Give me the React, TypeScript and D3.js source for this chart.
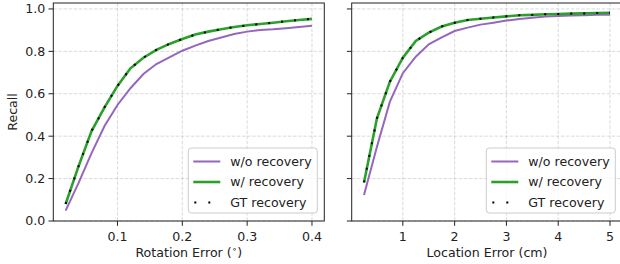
import React from "react";
import * as d3 from "d3";

// rotation error (deg) thresholds, left panel
const rotX = [0.02, 0.04, 0.06, 0.08, 0.1, 0.12, 0.14, 0.16, 0.18, 0.2, 0.22, 0.24, 0.26, 0.28, 0.3, 0.32, 0.34, 0.36, 0.38, 0.4];
const rotNoRec = [0.049, 0.18, 0.32, 0.448, 0.547, 0.626, 0.693, 0.74, 0.772, 0.803, 0.827, 0.849, 0.865, 0.882, 0.893, 0.901, 0.904, 0.909, 0.915, 0.921];
const rotRec = [0.08, 0.259, 0.424, 0.536, 0.637, 0.72, 0.77, 0.807, 0.835, 0.858, 0.879, 0.893, 0.904, 0.915, 0.923, 0.929, 0.935, 0.942, 0.948, 0.953];
const rotGT = rotRec;

// location error (cm) thresholds, right panel
const locX = [0.25, 0.5, 0.75, 1, 1.25, 1.5, 1.75, 2, 2.25, 2.5, 2.75, 3, 3.25, 3.5, 3.75, 4, 4.25, 4.5, 4.75, 5];
const locNoRec = [0.123, 0.35, 0.563, 0.697, 0.775, 0.833, 0.866, 0.896, 0.912, 0.926, 0.935, 0.945, 0.953, 0.959, 0.964, 0.967, 0.969, 0.97, 0.972, 0.973];
const locRec = [0.182, 0.484, 0.657, 0.77, 0.849, 0.888, 0.917, 0.935, 0.948, 0.954, 0.96, 0.965, 0.97, 0.972, 0.975, 0.976, 0.978, 0.979, 0.981, 0.982];
const locGT = locRec;

const yTicks = [0, 0.2, 0.4, 0.6, 0.8, 1.0];
const rotTicks = [0.1, 0.2, 0.3, 0.4];
const locTicks = [1, 2, 3, 4, 5];
const legendLabels = ["w/o recovery", "w/ recovery", "GT recovery"];

const FONT = "DejaVu Sans, sans-serif";
const FS = 12.6;
const PURPLE = "#9467bd";
const GREEN = "#2ca02c";

const top = 3;
const bottom = 221;
const y = d3.scaleLinear().domain([0, 1.028]).range([bottom, top]);

interface PanelProps {
  x: d3.ScaleLinear<number, number>;
  xs: number[];
  noRec: number[];
  rec: number[];
  gt: number[];
  ticks: number[];
  fmt: (v: number) => string;
  xLabel: React.ReactNode;
  showYLabels: boolean;
}

const Panel = ({ x, xs, noRec, rec, gt, ticks, fmt, xLabel, showYLabels }: PanelProps) => {
  const [x0, x1] = x.range();
  const line = (vals: number[]) =>
    d3.line<number>().x((_, i) => x(xs[i])).y((d) => y(d))(vals) || "";

  const lgW = 129;
  const lgH = 65;
  const lgX = x1 - 7 - lgW;
  const lgY = bottom - 8 - lgH;
  const rows = [lgY + 13.5, lgY + 34, lgY + 54.5];

  return (
    <g>
      {/* grid */}
      {ticks.map((t) => (
        <line key={"gx" + t} x1={x(t)} x2={x(t)} y1={top} y2={bottom} stroke="#b0b0b0" strokeOpacity={0.6} strokeWidth={0.8} strokeDasharray="3.5 1.6" />
      ))}
      {yTicks.map((t) => (
        <line key={"gy" + t} x1={x0} x2={x1} y1={y(t)} y2={y(t)} stroke="#b0b0b0" strokeOpacity={0.6} strokeWidth={0.8} strokeDasharray="3.5 1.6" />
      ))}

      <path d={line(noRec)} fill="none" stroke={PURPLE} strokeWidth={2} />
      <path d={line(rec)} fill="none" stroke={GREEN} strokeWidth={2.6} />
      <path d={line(gt)} fill="none" stroke="#000" strokeWidth={2} strokeDasharray="2 11" />

      {/* spines */}
      <rect x={x0} y={top} width={x1 - x0} height={bottom - top} fill="none" stroke="#222" strokeWidth={1} />

      {/* y ticks */}
      {yTicks.map((t) => (
        <g key={"yt" + t}>
          <line x1={x0 - 4.8} x2={x0} y1={y(t)} y2={y(t)} stroke="#222" strokeWidth={1} />
          {showYLabels && (
            <text x={x0 - 8} y={y(t)} dy="0.35em" textAnchor="end" fontSize={FS} fontFamily={FONT} fill="#222">
              {t.toFixed(1)}
            </text>
          )}
        </g>
      ))}

      {/* x ticks */}
      {ticks.map((t) => (
        <g key={"xt" + t}>
          <line x1={x(t)} x2={x(t)} y1={bottom} y2={bottom + 4.8} stroke="#222" strokeWidth={1} />
          <text x={x(t)} y={bottom + 20} textAnchor="middle" fontSize={FS} fontFamily={FONT} fill="#222">
            {fmt(t)}
          </text>
        </g>
      ))}

      <text x={(x0 + x1) / 2} y={257} textAnchor="middle" fontSize={FS} fontFamily={FONT} fill="#222">
        {xLabel}
      </text>

      {/* legend */}
      <rect x={lgX} y={lgY} width={lgW} height={lgH} rx={3} fill="#fff" fillOpacity={0.8} stroke="#ccc" strokeWidth={1} />
      {legendLabels.map((lbl, i) => (
        <g key={lbl}>
          {i === 0 && <line x1={lgX + 5} x2={lgX + 32} y1={rows[i]} y2={rows[i]} stroke={PURPLE} strokeWidth={2} />}
          {i === 1 && <line x1={lgX + 5} x2={lgX + 32} y1={rows[i]} y2={rows[i]} stroke={GREEN} strokeWidth={2.6} />}
          {i === 2 && <line x1={lgX + 6} x2={lgX + 32} y1={rows[i]} y2={rows[i]} stroke="#000" strokeWidth={2} strokeDasharray="2 12" />}
          <text x={lgX + 42} y={rows[i]} dy="0.35em" fontSize={FS} fontFamily={FONT} fill="#222">
            {lbl}
          </text>
        </g>
      ))}
    </g>
  );
};

export default function App() {
  const xRot = d3.scaleLinear().domain([0.001, 0.419]).range([53.3, 324.3]);
  const xLoc = d3.scaleLinear().domain([0.0125, 5.2375]).range([351.7, 622.3]);

  return (
    <svg width={620} height={264} style={{ position: "absolute", left: 0, top: 0, background: "#fff" }}>
      <rect width={620} height={264} fill="#fff" />
      <Panel
        x={xRot}
        xs={rotX}
        noRec={rotNoRec}
        rec={rotRec}
        gt={rotGT}
        ticks={rotTicks}
        fmt={(v) => v.toFixed(1)}
        xLabel={
          <>
            Rotation Error (<tspan fontSize={FS * 0.7} dy={-5}>∘</tspan>
            <tspan dy={5}>)</tspan>
          </>
        }
        showYLabels={true}
      />
      <Panel
        x={xLoc}
        xs={locX}
        noRec={locNoRec}
        rec={locRec}
        gt={locGT}
        ticks={locTicks}
        fmt={(v) => String(v)}
        xLabel="Location Error (cm)"
        showYLabels={false}
      />
      <text transform="translate(17,112) rotate(-90)" textAnchor="middle" fontSize={FS} fontFamily={FONT} fill="#222">
        Recall
      </text>
    </svg>
  );
}
